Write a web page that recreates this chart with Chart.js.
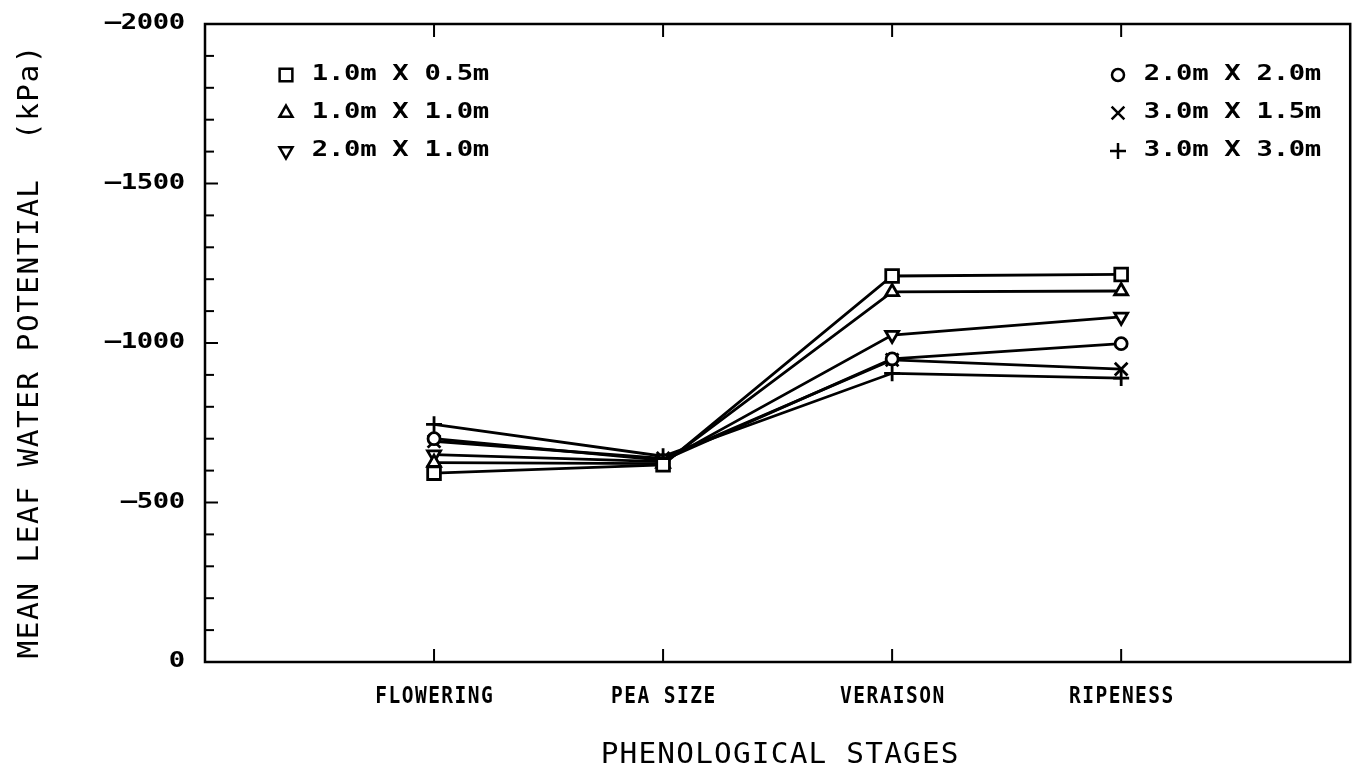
<!DOCTYPE html>
<html>
<head>
<meta charset="utf-8">
<title>Mean leaf water potential</title>
<script src="https://cdn.jsdelivr.net/npm/chart.js@4.4.0/dist/chart.umd.min.js"></script>
<style>
  html, body { margin: 0; padding: 0; background: #fff; }
  canvas { display: block; }
</style>
</head>
<body>
<canvas id="chart" width="1362" height="776"></canvas>
<script>
// stages along the x axis and the six vine spacings
const stages = ['FLOWERING', 'PEA SIZE', 'VERAISON', 'RIPENESS'];
const spacings = ['1.0m X 0.5m', '1.0m X 1.0m', '2.0m X 1.0m', '2.0m X 2.0m', '3.0m X 1.5m', '3.0m X 3.0m'];

// mean leaf water potential (kPa) per stage
const s1x05 = [-592, -618, -1210, -1215];
const s1x10 = [-625, -622, -1160, -1163];
const s2x10 = [-650, -628, -1025, -1082];
const s2x20 = [-700, -632, -950, -998];
const s3x15 = [-692, -638, -947, -918];
const s3x30 = [-745, -645, -905, -890];

const yTicks = [-2000, -1500, -1000, -500, 0];
const yMinorStep = 100;

const seriesValues = [s1x05, s1x10, s2x10, s2x20, s3x15, s3x30];

// symbol for each spacing
const markers = [
    { pointStyle: 'rect', radius: 9, rotation: 0 },
    { pointStyle: 'triangle', radius: 7.5, rotation: 0 },
    { pointStyle: 'triangle', radius: 7.5, rotation: 180 },
    { pointStyle: 'circle', radius: 6, rotation: 0 },
    { pointStyle: 'crossRot', radius: 9, rotation: 0 },
    { pointStyle: 'cross', radius: 8, rotation: 0 }
];

const MONO = "'DejaVu Sans Mono', 'Liberation Mono', monospace";

// draws text one character per fixed-width cell, like a plotter font
function spacedText(ctx, text, x, y, step, align, stretch) {
    const total = step * text.length;
    let start = x;
    if (align === 'right') start = x - total;
    if (align === 'center') start = x - total / 2;
    ctx.textAlign = 'center';
    ctx.textBaseline = 'middle';
    for (let i = 0; i < text.length; i++) {
        const ch = text[i] === '-' ? '\u2013' : text[i];
        ctx.save();
        ctx.translate(start + step * (i + 0.5), y);
        ctx.scale(stretch || 1, 1);
        ctx.fillText(ch, 0, 0);
        ctx.restore();
    }
}

const framePlugin = {
    id: 'frame',
    afterDraw(chart) {
        const ctx = chart.ctx;
        const area = chart.chartArea;
        const xs = chart.scales.x;
        const ys = chart.scales.y;

        ctx.save();
        ctx.strokeStyle = '#000';
        ctx.fillStyle = '#000';
        ctx.lineWidth = 2.5;
        ctx.lineCap = 'butt';

        // box
        ctx.strokeRect(area.left, area.top, area.right - area.left, area.bottom - area.top);

        // y ticks pointing inwards, minor every 100
        ctx.lineWidth = 2;
        for (let v = -2000; v <= 0; v += yMinorStep) {
            const py = ys.getPixelForValue(v);
            const len = (v % 500 === 0) ? 13 : 9;
            ctx.beginPath();
            ctx.moveTo(area.left, py);
            ctx.lineTo(area.left + len, py);
            ctx.stroke();
        }

        // x ticks at each stage, top and bottom
        stages.forEach((s, i) => {
            const px = xs.getPixelForValue(i + 1);
            ctx.beginPath();
            ctx.moveTo(px, area.top);
            ctx.lineTo(px, area.top + 13);
            ctx.moveTo(px, area.bottom);
            ctx.lineTo(px, area.bottom - 13);
            ctx.stroke();
        });

        // y tick labels
        ctx.font = 'bold 21px ' + MONO;
        yTicks.forEach(v => {
            spacedText(ctx, String(v), 185, ys.getPixelForValue(v), 16, 'right', 1.3);
        });

        // stage labels
        ctx.font = 'bold 23px ' + MONO;
        stages.forEach((s, i) => {
            spacedText(ctx, s, xs.getPixelForValue(i + 1), 697, 13.2, 'center', 0.85);
        });

        // axis titles
        ctx.font = '28px ' + MONO;
        spacedText(ctx, 'PHENOLOGICAL STAGES', (area.left + area.right) / 2 + 2, 756, 18.9, 'center', 1.05);
        ctx.save();
        ctx.translate(31, 352);
        ctx.rotate(-Math.PI / 2);
        spacedText(ctx, 'MEAN LEAF WATER POTENTIAL  (kPa)', 0, 0, 19.2, 'center', 1.05);
        ctx.restore();

        // legend, three entries on each side
        ctx.font = 'bold 21px ' + MONO;
        chart.data.datasets.forEach((ds, i) => {
            const left = i < 3;
            const row = i % 3;
            const ly = 75 + row * 38;
            const mx = left ? 286 : 1118;
            const tx = left ? 312 : 1144;
            ctx.lineWidth = 2.5;
            ctx.fillStyle = '#fff';
            Chart.helpers.drawPoint(ctx, {
                pointStyle: ds.pointStyle,
                rotation: ds.pointRotation,
                radius: ds.pointRadius,
                borderWidth: 2.5
            }, mx, ly);
            ctx.fillStyle = '#000';
            spacedText(ctx, ds.label, tx, ly, 16.1, 'left', 1.3);
        });

        ctx.restore();
    }
};

const datasets = seriesValues.map((vals, i) => ({
    label: spacings[i],
    data: vals.map((v, k) => ({ x: k + 1, y: v })),
    borderColor: '#000',
    borderWidth: 2.8,
    pointStyle: markers[i].pointStyle,
    pointRadius: markers[i].radius,
    pointRotation: markers[i].rotation,
    pointBorderWidth: 2.8,
    pointBorderColor: '#000',
    pointBackgroundColor: '#fff',
    tension: 0,
    fill: false
}));

new Chart(document.getElementById('chart').getContext('2d'), {
    type: 'line',
    data: { datasets: datasets },
    options: {
        responsive: false,
        animation: false,
        events: [],
        layout: { padding: { left: 205, right: 5, top: 24, bottom: 114 } },
        plugins: {
            legend: { display: false },
            tooltip: { enabled: false }
        },
        scales: {
            x: { type: 'linear', min: 0, max: 5, display: false },
            y: { type: 'linear', min: -2000, max: 0, reverse: true, display: false }
        }
    },
    plugins: [framePlugin]
});
</script>
</body>
</html>
